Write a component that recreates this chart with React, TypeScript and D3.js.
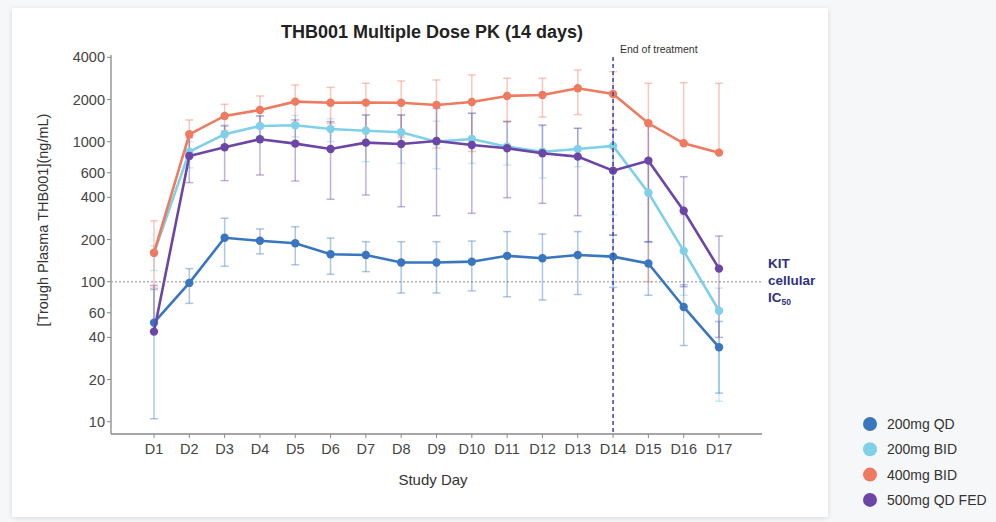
import React from "react";
import * as d3 from "d3";

const days = ["D1","D2","D3","D4","D5","D6","D7","D8","D9","D10","D11","D12","D13","D14","D15","D16","D17"];
const yTicks = [10, 20, 40, 60, 100, 200, 400, 600, 1000, 2000, 4000];

const qd200 = [51, 98, 206, 196, 188, 157, 155, 137, 137, 139, 153, 147, 155, 151, 135, 66, 34];
const qd200Low = [10.5, 70, 129, 158, 132, 113, 118, 83, 83, 86, 78, 74, 81, 91, 80, 35, 16];
const qd200High = [88, 124, 284, 238, 247, 205, 193, 193, 193, 195, 228, 219, 228, 215, 193, 95, 52];

const bid200 = [160, 848, 1129, 1295, 1310, 1232, 1198, 1167, 1000, 1045, 921, 848, 887, 932, 432, 166, 62];
const bid200Low = [120, 650, 950, 1090, 1080, 1000, 720, 700, 640, 700, 680, 550, 663, 300, 190, 80, 14];
const bid200High = [180, 1000, 1316, 1526, 1540, 1460, 1551, 1551, 1400, 1596, 1390, 1300, 1246, 1212, 750, 300, 90];

const bid400 = [161, 1129, 1526, 1684, 1932, 1898, 1900, 1898, 1828, 1920, 2121, 2155, 2406, 2192, 1353, 974, 835];
const bid400Low = [90, 830, 1200, 1250, 1320, 1350, 1190, 1080, 900, 850, 1400, 1500, 1560, 1220, 100, 974, 835];
const bid400High = [272, 1429, 1850, 2120, 2542, 2444, 2614, 2713, 2760, 2995, 2838, 2838, 3250, 3160, 2612, 2637, 2612];

const qdFed500 = [44, 790, 912, 1040, 968, 887, 984, 963, 1012, 947, 897, 826, 782, 621, 732, 321, 124];
const qdFed500Low = [44, 510, 527, 578, 524, 388, 416, 343, 296, 308, 398, 363, 296, 215, 193, 92, 40];
const qdFed500High = [94, 1070, 1295, 1526, 1430, 1390, 1550, 1550, 1730, 1596, 1390, 1316, 1246, 1220, 1390, 562, 212];

const seriesNames = ["200mg QD", "200mg BID", "400mg BID", "500mg QD FED"];
const seriesColors = ["#3a76c0", "#7fd0e8", "#ee7a5f", "#6c46a6"];

const series = [
  { name: seriesNames[0], color: seriesColors[0], v: qd200, lo: qd200Low, hi: qd200High },
  { name: seriesNames[1], color: seriesColors[1], v: bid200, lo: bid200Low, hi: bid200High },
  { name: seriesNames[2], color: seriesColors[2], v: bid400, lo: bid400Low, hi: bid400High },
  { name: seriesNames[3], color: seriesColors[3], v: qdFed500, lo: qdFed500Low, hi: qdFed500High },
];
const drawOrder = [1, 0, 2, 3];

const refValue = 100;
const eotDay = "D14";

export default function App() {
  const W = 996, H = 522;
  const x = d3.scalePoint<string>().domain(days).range([154, 719]);
  const y = d3.scaleLog().domain([8.17, 4159]).range([434, 55]);
  const axL = 111, axR = 762, axB = 434, axT = 55;
  const font = "'Liberation Sans', Arial, sans-serif";
  const line = d3.line<number>().x((_, i) => x(days[i])!).y((d) => y(d));

  return (
    <svg width={W} height={H} style={{ position: "absolute", left: 0, top: 0 }} fontFamily={font}>
      <defs>
        <filter id="sh" x="-5%" y="-5%" width="110%" height="110%">
          <feDropShadow dx="0" dy="1" stdDeviation="2.5" floodColor="#000" floodOpacity="0.12" />
        </filter>
      </defs>
      <rect x={0} y={0} width={W} height={H} fill="#f6f7f9" />
      <rect x={12} y={8} width={816} height={509} fill="#ffffff" filter="url(#sh)" />

      <text x={432} y={38} textAnchor="middle" fontSize={18} fontWeight="bold" fill="#222">
        THB001 Multiple Dose PK (14 days)
      </text>

      {/* axes */}
      <line x1={axL} x2={axL} y1={axT} y2={axB} stroke="#888" strokeWidth={1.3} />
      <line x1={axL} x2={axR} y1={axB} y2={axB} stroke="#888" strokeWidth={1.3} />
      {yTicks.map((t) => (
        <g key={t}>
          <line x1={axL - 4} x2={axL} y1={y(t)} y2={y(t)} stroke="#888" />
          <text x={105} y={y(t)} dy="0.35em" textAnchor="end" fontSize={14.5} fill="#444">{t}</text>
        </g>
      ))}
      {days.map((d) => (
        <g key={d}>
          <line x1={x(d)} x2={x(d)} y1={axB} y2={axB + 4} stroke="#888" />
          <text x={x(d)} y={449} dy="0.35em" textAnchor="middle" fontSize={14.5} fill="#444">{d}</text>
        </g>
      ))}
      <text x={433} y={480} dy="0.35em" textAnchor="middle" fontSize={15} fill="#333">Study Day</text>
      <text transform={`translate(43,220) rotate(-90)`} textAnchor="middle" dy="0.35em" fontSize={14.5} fill="#333">
        [Trough Plasma THB001](ng/mL)
      </text>

      {/* reference line */}
      <line x1={axL} x2={axR} y1={y(refValue)} y2={y(refValue)} stroke="#b0b0b0" strokeWidth={1.6} strokeDasharray="2,2" />

      {/* error bars */}
      {drawOrder.map((si) => {
        const s = series[si];
        return (
          <g key={"e" + si} stroke={s.color} strokeOpacity={0.42} strokeWidth={1.5}>
            {days.map((d, i) => {
              const cx = x(d)!;
              const yl = y(s.lo[i]), yh = y(s.hi[i]);
              return (
                <g key={d}>
                  <line x1={cx} x2={cx} y1={yl} y2={yh} />
                  <line x1={cx - 4} x2={cx + 4} y1={yh} y2={yh} />
                  {s.lo[i] < s.v[i] && <line x1={cx - 4} x2={cx + 4} y1={yl} y2={yl} />}
                </g>
              );
            })}
          </g>
        );
      })}

      {/* lines and points */}
      {drawOrder.map((si) => {
        const s = series[si];
        return (
          <g key={"l" + si}>
            <path d={line(s.v)!} fill="none" stroke={s.color} strokeWidth={2.6} />
            {s.v.map((v, i) => (
              <circle key={i} cx={x(days[i])} cy={y(v)} r={4.2} fill={s.color} />
            ))}
          </g>
        );
      })}

      {/* end of treatment */}
      <line x1={x(eotDay)} x2={x(eotDay)} y1={57} y2={axB} stroke="#4040a8" strokeWidth={1.5} strokeDasharray="4,3" />
      <text x={620} y={53} fontSize={10.5} fill="#333">End of treatment</text>

      {/* KIT label */}
      <g fontSize={13.5} fontWeight="bold" fill="#2e3080">
        <text x={768} y={263} dy="0.35em">KIT</text>
        <text x={768} y={280} dy="0.35em">cellular</text>
        <text x={768} y={297} dy="0.35em">IC<tspan fontSize={8.5} dy="3">50</tspan></text>
      </g>

      {/* legend */}
      {series.map((s, i) => (
        <g key={"lg" + i} transform={`translate(870,${424 + i * 25.3})`}>
          <circle r={7} fill={s.color} />
          <text x={17} dy="0.35em" fontSize={14} fill="#333">{s.name}</text>
        </g>
      ))}
    </svg>
  );
}
